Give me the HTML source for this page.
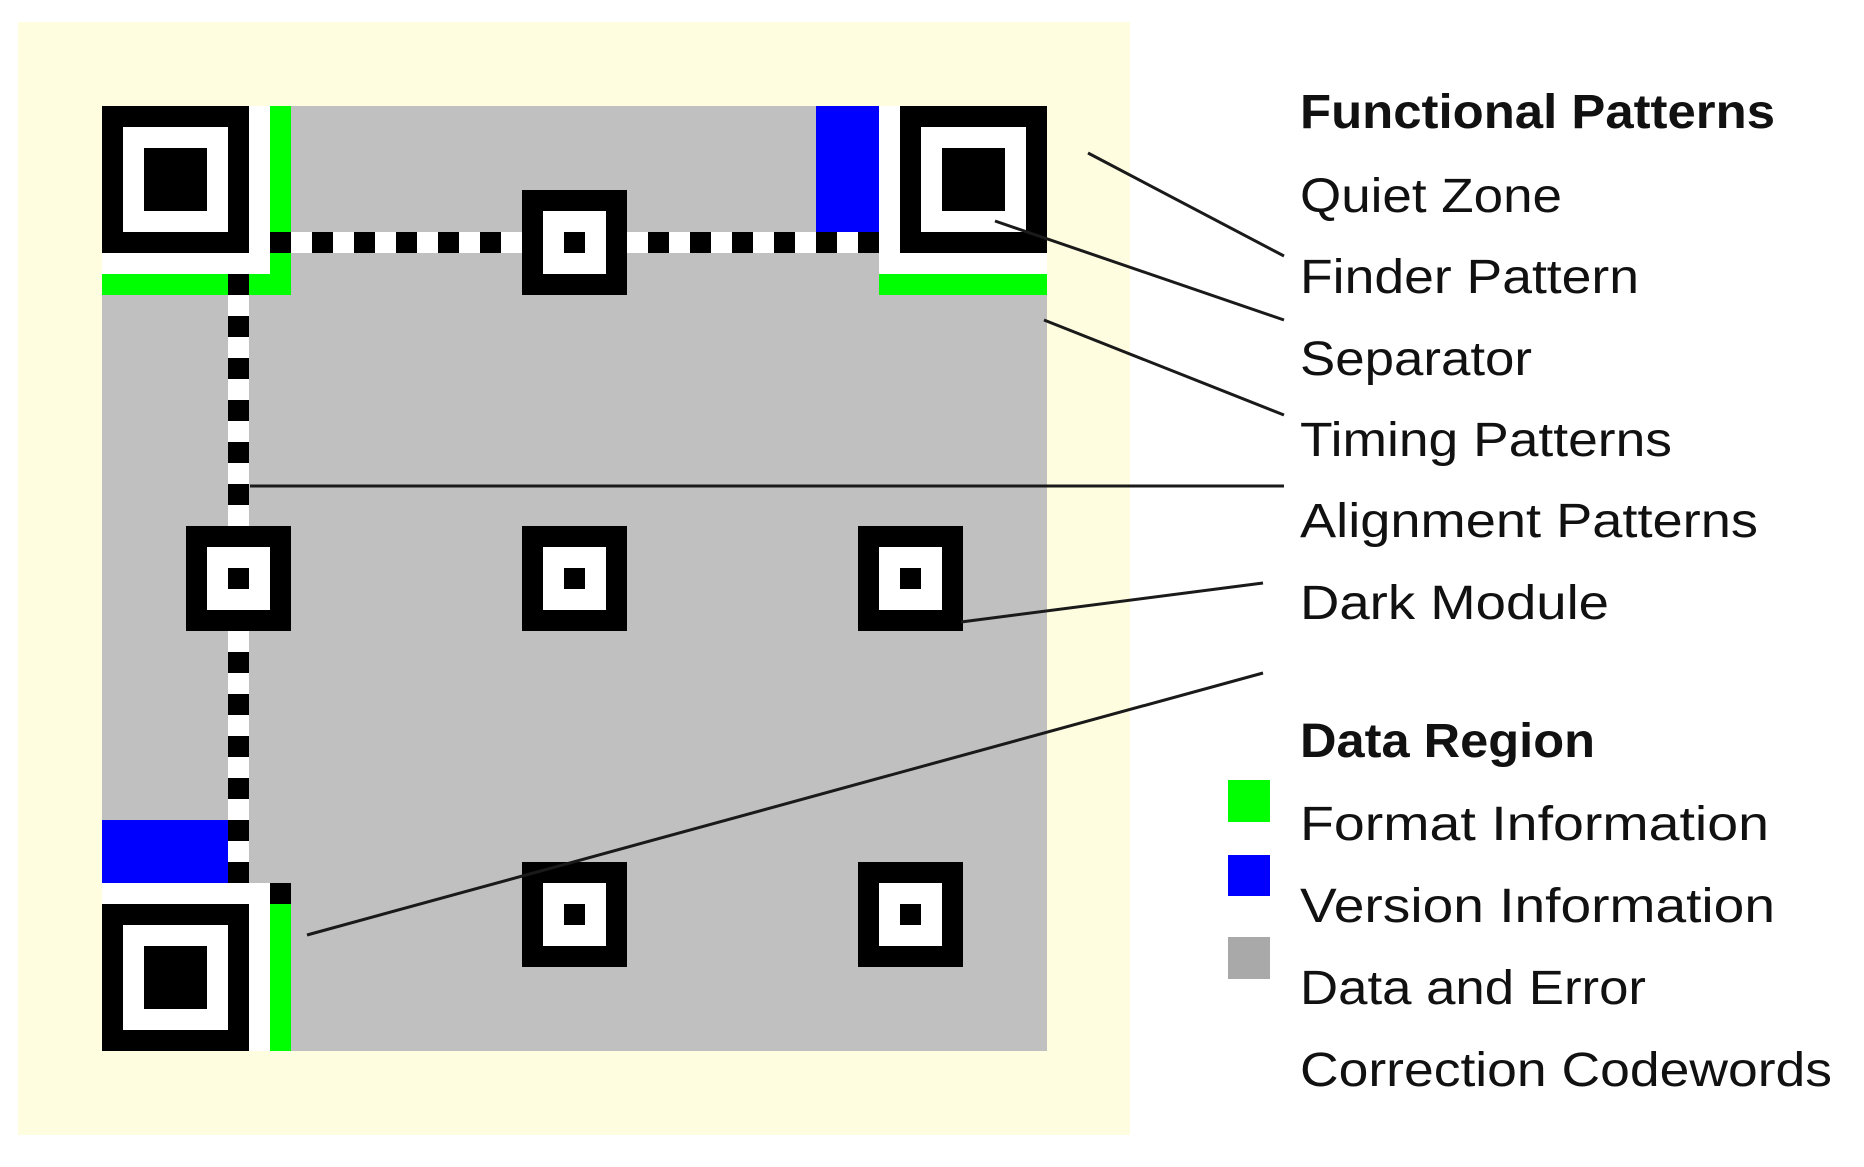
<!DOCTYPE html>
<html><head><meta charset="utf-8"><style>
html,body{margin:0;padding:0;background:#fff;}
svg{display:block;}
text{font-family:"Liberation Sans",sans-serif;font-size:48px;fill:#111;}
</style></head><body>
<svg width="1864" height="1167" viewBox="0 0 1864 1167" xmlns="http://www.w3.org/2000/svg">
<rect x="0" y="0" width="1864" height="1167" fill="#fff"/>
<rect x="18" y="22" width="1112" height="1113" fill="#fffde0"/>
<g transform="translate(102,106) scale(21)" shape-rendering="crispEdges">
<rect x="0" y="0" width="45" height="45" fill="#c0c0c0"/>
<g fill="#fff">
<rect x="7" y="0" width="1" height="8"/><rect x="0" y="7" width="8" height="1"/>
<rect x="37" y="0" width="1" height="8"/><rect x="37" y="7" width="8" height="1"/>
<rect x="0" y="37" width="8" height="1"/><rect x="7" y="37" width="1" height="8"/>
<rect x="8" y="6" width="29" height="1"/><rect x="6" y="8" width="1" height="29"/>
</g>
<g>
<rect x="0" y="0" width="7" height="7" fill="#000"/><rect x="1" y="1" width="5" height="5" fill="#fff"/><rect x="2" y="2" width="3" height="3" fill="#000"/>
<rect x="38" y="0" width="7" height="7" fill="#000"/><rect x="39" y="1" width="5" height="5" fill="#fff"/><rect x="40" y="2" width="3" height="3" fill="#000"/>
<rect x="0" y="38" width="7" height="7" fill="#000"/><rect x="1" y="39" width="5" height="5" fill="#fff"/><rect x="2" y="40" width="3" height="3" fill="#000"/>
</g>
<g fill="#00ff00">
<rect x="8" y="0" width="1" height="6"/><rect x="8" y="7" width="1" height="2"/>
<rect x="0" y="8" width="6" height="1"/><rect x="7" y="8" width="1" height="1"/>
<rect x="37" y="8" width="8" height="1"/>
<rect x="8" y="38" width="1" height="7"/>
</g>
<g fill="#0000ff">
<rect x="34" y="0" width="3" height="6"/><rect x="0" y="34" width="6" height="3"/>
</g>
<g fill="#000">
<rect x="8" y="37" width="1" height="1"/>
<rect x="8" y="6" width="1" height="1"/><rect x="10" y="6" width="1" height="1"/><rect x="12" y="6" width="1" height="1"/><rect x="14" y="6" width="1" height="1"/><rect x="16" y="6" width="1" height="1"/><rect x="18" y="6" width="1" height="1"/>
<rect x="26" y="6" width="1" height="1"/><rect x="28" y="6" width="1" height="1"/><rect x="30" y="6" width="1" height="1"/><rect x="32" y="6" width="1" height="1"/><rect x="34" y="6" width="1" height="1"/><rect x="36" y="6" width="1" height="1"/>
<rect x="6" y="8" width="1" height="1"/><rect x="6" y="10" width="1" height="1"/><rect x="6" y="12" width="1" height="1"/><rect x="6" y="14" width="1" height="1"/><rect x="6" y="16" width="1" height="1"/><rect x="6" y="18" width="1" height="1"/>
<rect x="6" y="26" width="1" height="1"/><rect x="6" y="28" width="1" height="1"/><rect x="6" y="30" width="1" height="1"/><rect x="6" y="32" width="1" height="1"/><rect x="6" y="34" width="1" height="1"/><rect x="6" y="36" width="1" height="1"/>
</g>
<g>
<rect x="20" y="4" width="5" height="5" fill="#000"/><rect x="21" y="5" width="3" height="3" fill="#fff"/><rect x="22" y="6" width="1" height="1" fill="#000"/>
<rect x="4" y="20" width="5" height="5" fill="#000"/><rect x="5" y="21" width="3" height="3" fill="#fff"/><rect x="6" y="22" width="1" height="1" fill="#000"/>
<rect x="20" y="20" width="5" height="5" fill="#000"/><rect x="21" y="21" width="3" height="3" fill="#fff"/><rect x="22" y="22" width="1" height="1" fill="#000"/>
<rect x="36" y="20" width="5" height="5" fill="#000"/><rect x="37" y="21" width="3" height="3" fill="#fff"/><rect x="38" y="22" width="1" height="1" fill="#000"/>
<rect x="20" y="36" width="5" height="5" fill="#000"/><rect x="21" y="37" width="3" height="3" fill="#fff"/><rect x="22" y="38" width="1" height="1" fill="#000"/>
<rect x="36" y="36" width="5" height="5" fill="#000"/><rect x="37" y="37" width="3" height="3" fill="#fff"/><rect x="38" y="38" width="1" height="1" fill="#000"/>
</g>
</g>
<g stroke="#1a1a1a" stroke-width="3" fill="none">
<line x1="1088" y1="153" x2="1284" y2="256"/>
<line x1="995" y1="221" x2="1284" y2="320"/>
<line x1="1044" y1="320" x2="1284" y2="415"/>
<line x1="250" y1="486" x2="1284" y2="486"/>
<line x1="961" y1="622" x2="1263" y2="583"/>
<line x1="307" y1="935" x2="1263" y2="673"/>
</g>
<rect x="1228" y="780" width="42" height="42" fill="#00ff00"/>
<rect x="1228" y="855" width="42" height="41" fill="#0000ff"/>
<rect x="1228" y="937" width="42" height="42" fill="#a9a9a9"/>
<text x="1300" y="128" font-weight="bold" textLength="475" lengthAdjust="spacingAndGlyphs">Functional Patterns</text>
<text x="1300" y="212" textLength="262" lengthAdjust="spacingAndGlyphs">Quiet Zone</text>
<text x="1300" y="293" textLength="339" lengthAdjust="spacingAndGlyphs">Finder Pattern</text>
<text x="1300" y="375" textLength="232" lengthAdjust="spacingAndGlyphs">Separator</text>
<text x="1300" y="456" textLength="372" lengthAdjust="spacingAndGlyphs">Timing Patterns</text>
<text x="1300" y="537" textLength="458" lengthAdjust="spacingAndGlyphs">Alignment Patterns</text>
<text x="1300" y="619" textLength="309" lengthAdjust="spacingAndGlyphs">Dark Module</text>
<text x="1300" y="757" font-weight="bold" textLength="295" lengthAdjust="spacingAndGlyphs">Data Region</text>
<text x="1300" y="840" textLength="469" lengthAdjust="spacingAndGlyphs">Format Information</text>
<text x="1300" y="922" textLength="475" lengthAdjust="spacingAndGlyphs">Version Information</text>
<text x="1300" y="1004" textLength="346" lengthAdjust="spacingAndGlyphs">Data and Error</text>
<text x="1300" y="1086" textLength="532" lengthAdjust="spacingAndGlyphs">Correction Codewords</text>
</svg>
</body></html>
